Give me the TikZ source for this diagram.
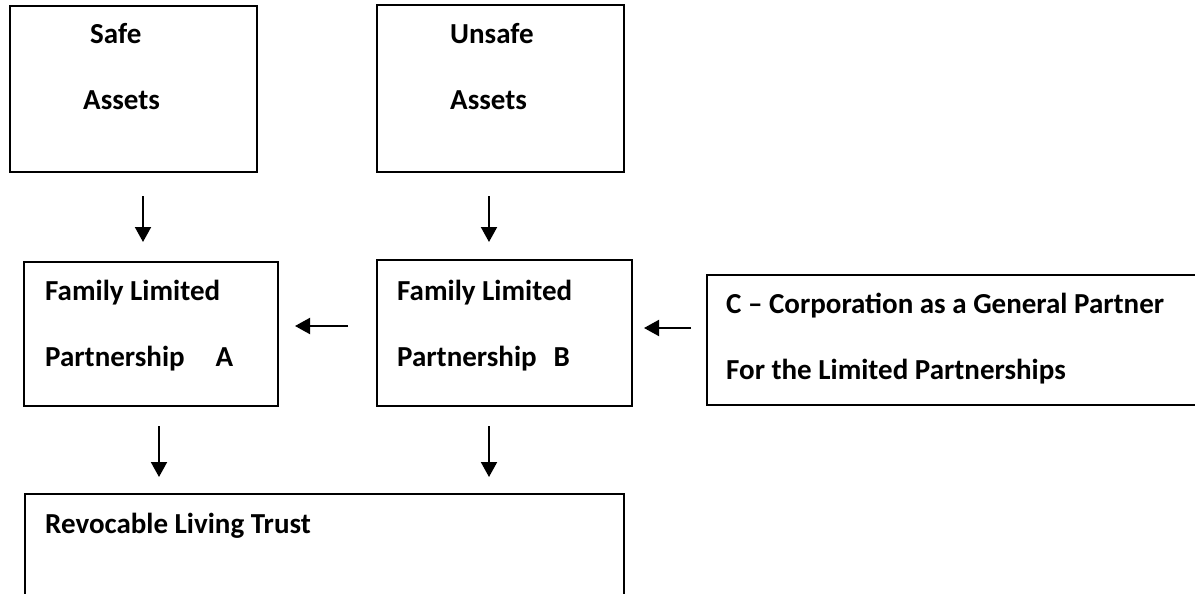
\documentclass[tikz,border=0pt]{standalone}
\usepackage{fontspec}
\setmainfont{Carlito}
\usepackage{tikz}
\usetikzlibrary{positioning,calc,arrows.meta}

\tikzset{
    box/.style={draw, line width=2pt, rectangle, anchor=north west, inner sep=0pt},
    lbl/.style={font=\fontsize{29}{66}\selectfont\bfseries, align=left, anchor=north west, inner sep=0pt},
    arr/.style={-{Triangle[length=15pt,width=16pt]}, line width=2pt}
}

\begin{document}
\begin{tikzpicture}[x=1pt,y=-1pt]
    \useasboundingbox (0,0) rectangle (1195,594);
    \clip (0,0) rectangle (1195,594);

    % Asset boxes
    \node [box, minimum width=247pt, minimum height=166pt] (safe) at (9,5) {};
    \node [lbl] (safetxt) at (83,23) {\hspace*{7pt}Safe\\Assets};
    \node [box, minimum width=247pt, minimum height=167pt] (unsafe) at (376,4) {};
    \node [lbl] (unsafetxt) at (450,23) {Unsafe\\Assets};

    % Partnerships
    \node [box, minimum width=254pt, minimum height=144pt] (flpa) at (23,261) {};
    \node [lbl] (flpatxt) at (45,280) {Family Limited\\Partnership\hspace*{31pt}A};
    \node [box, minimum width=255pt, minimum height=146pt] (flpb) at (376,259) {};
    \node [lbl] (flpbtxt) at (397,280) {Family Limited\\Partnership\hspace*{17pt}B};

    % General partner
    \node [box, minimum width=520pt, minimum height=130pt] (corp) at (706,274) {};
    \node [lbl] (corptxt) at (726,293) {C -- Corporation as a General Partner\\For the Limited Partnerships};

    % Trust
    \node [box, minimum width=599pt, minimum height=150pt] (trust) at (24,493) {};
    \node [lbl] (trusttxt) at (45,513) {Revocable Living Trust};

    % Arrows
    \draw [arr, shorten <=23pt, shorten >=19pt] ([xshift=9.5pt]safe.south) -- ([xshift=9.5pt]safe.south |- flpa.north);
    \draw [arr, shorten <=23pt, shorten >=17pt] ([xshift=-11.5pt]unsafe.south) -- ([xshift=-11.5pt]unsafe.south |- flpb.north);
    \draw [arr, shorten <=28pt, shorten >=16pt] ([yshift=7pt]flpb.west) -- ([yshift=7pt]flpb.west -| flpa.east);
    \draw [arr, shorten <=15pt, shorten >=11pt] ([yshift=12pt]corp.west) -- ([yshift=12pt]corp.west -| flpb.east);
    \draw [arr, shorten <=19pt, shorten >=16pt] ([xshift=8pt]flpa.south) -- ([xshift=8pt]flpa.south |- trust.north);
    \draw [arr, shorten <=19pt, shorten >=16pt] ([xshift=-15.5pt]flpb.south) -- ([xshift=-15.5pt]flpb.south |- trust.north);
\end{tikzpicture}
\end{document}
